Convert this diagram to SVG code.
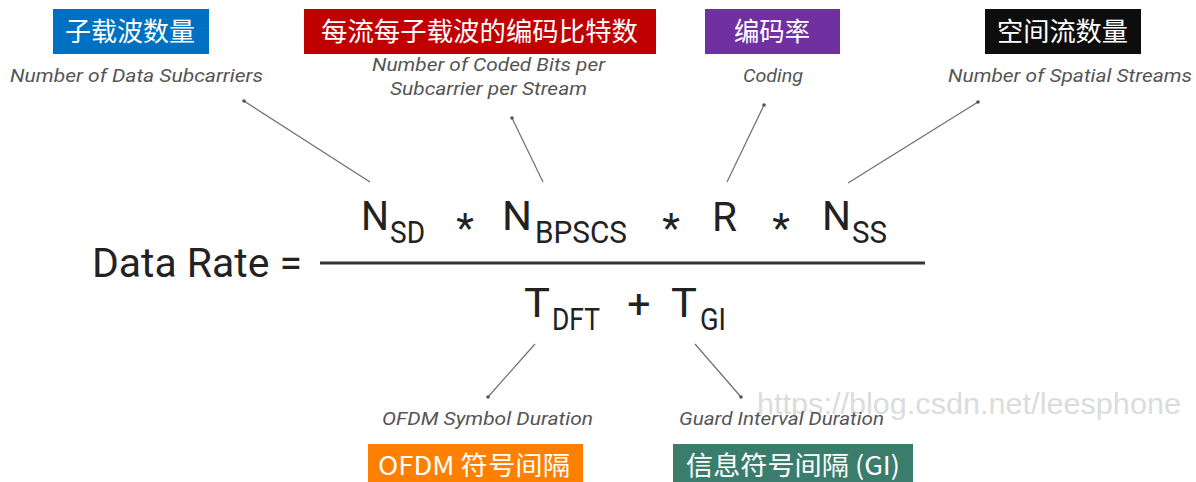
<svg xmlns="http://www.w3.org/2000/svg" width="1196" height="482" viewBox="0 0 1196 482">
<style>
.tag{font-family:"Noto Sans CJK SC","Noto Sans",sans-serif;font-size:26px;fill:#ffffff}
.lbl{font-family:Roboto,"Liberation Sans",sans-serif;font-style:italic;font-weight:400;font-size:18px;fill:#555555}
.big{font-family:Roboto,"Liberation Sans",sans-serif;font-size:41px;fill:#222222}
.sub{font-family:Roboto,"Liberation Sans",sans-serif;font-size:31px;fill:#222222}
.conn line{stroke:#6e6e6e;stroke-width:1.2}
.conn circle{fill:#555555}
.wm{font-family:"Liberation Sans",Arial,sans-serif;font-size:30px;fill:#dcdcdc}
</style>
<rect width="1196" height="482" fill="#ffffff"/>
<text class="wm" x="757" y="414" textLength="424" lengthAdjust="spacingAndGlyphs">https://blog.csdn.net/leesphone</text>

<g id="tag-nsd"><rect x="53" y="9" width="156" height="45" fill="#0070C0"/><text class="tag" x="65" y="41" textLength="130" lengthAdjust="spacingAndGlyphs">子载波数量</text></g>
<g id="tag-nbpscs"><rect x="304" y="9" width="352" height="45" fill="#C00000"/><text class="tag" x="321" y="41" textLength="317" lengthAdjust="spacingAndGlyphs">每流每子载波的编码比特数</text></g>
<g id="tag-r"><rect x="705" y="9" width="135" height="45" fill="#7030A0"/><text class="tag" x="734" y="41" textLength="76" lengthAdjust="spacingAndGlyphs">编码率</text></g>
<g id="tag-nss"><rect x="985" y="9" width="156" height="45" fill="#0D0D0D"/><text class="tag" x="997" y="41" textLength="131" lengthAdjust="spacingAndGlyphs">空间流数量</text></g>
<g id="tag-tdft"><rect x="368" y="444" width="215" height="38" fill="#FF8000"/><text class="tag" x="378" y="475" font-size="27" textLength="192" lengthAdjust="spacingAndGlyphs">OFDM 符号间隔</text></g>
<g id="tag-tgi"><rect x="673" y="444" width="240" height="38" fill="#3A7D6C"/><text class="tag" x="686" y="475" font-size="27" textLength="214" lengthAdjust="spacingAndGlyphs">信息符号间隔 (GI)</text></g>

<g id="label-nsd"><text class="lbl" x="10" y="82" textLength="253" lengthAdjust="spacingAndGlyphs">Number of Data Subcarriers</text></g>
<g id="label-nbpscs"><text class="lbl" x="372" y="71" textLength="233" lengthAdjust="spacingAndGlyphs">Number of Coded Bits per</text><text class="lbl" x="390" y="95" textLength="197" lengthAdjust="spacingAndGlyphs">Subcarrier per Stream</text></g>
<g id="label-r"><text class="lbl" x="743" y="82" textLength="60" lengthAdjust="spacingAndGlyphs">Coding</text></g>
<g id="label-nss"><text class="lbl" x="948" y="82" textLength="244" lengthAdjust="spacingAndGlyphs">Number of Spatial Streams</text></g>
<g id="label-tdft"><text class="lbl" x="382" y="425" textLength="211" lengthAdjust="spacingAndGlyphs">OFDM Symbol Duration</text></g>
<g id="label-tgi"><text class="lbl" x="679" y="425" textLength="205" lengthAdjust="spacingAndGlyphs">Guard Interval Duration</text></g>

<g id="formula">
<text class="big" x="92" y="277" font-size="42" textLength="210" lengthAdjust="spacingAndGlyphs">Data Rate =</text>
<line x1="320" y1="263" x2="925" y2="263" stroke="#333333" stroke-width="3"/>
<text class="big" x="361" y="230" textLength="28" lengthAdjust="spacingAndGlyphs">N</text>
<text class="sub" x="390" y="243" textLength="35" lengthAdjust="spacingAndGlyphs">SD</text>
<text class="big" x="465" y="242" text-anchor="middle">*</text>
<text class="big" x="502" y="230" textLength="30" lengthAdjust="spacingAndGlyphs">N</text>
<text class="sub" x="535" y="243" textLength="92" lengthAdjust="spacingAndGlyphs">BPSCS</text>
<text class="big" x="671" y="242" text-anchor="middle">*</text>
<text class="big" x="712" y="231" textLength="25" lengthAdjust="spacingAndGlyphs">R</text>
<text class="big" x="781" y="242" text-anchor="middle">*</text>
<text class="big" x="822" y="230" textLength="29" lengthAdjust="spacingAndGlyphs">N</text>
<text class="sub" x="852" y="243" textLength="35" lengthAdjust="spacingAndGlyphs">SS</text>
<text class="big" x="524" y="317" font-size="44" textLength="26" lengthAdjust="spacingAndGlyphs">T</text>
<text class="sub" x="552" y="330" textLength="48" lengthAdjust="spacingAndGlyphs">DFT</text>
<text class="big" x="639" y="318" font-size="43" text-anchor="middle">+</text>
<text class="big" x="671" y="317" font-size="44" textLength="26" lengthAdjust="spacingAndGlyphs">T</text>
<text class="sub" x="700" y="330" textLength="26" lengthAdjust="spacingAndGlyphs">GI</text>
</g>

<g id="connectors" class="conn">
<line x1="370" y1="182" x2="244" y2="101"/><circle cx="244" cy="101" r="1.8"/>
<line x1="543" y1="182" x2="512" y2="118"/><circle cx="512" cy="118" r="1.8"/>
<line x1="727" y1="182" x2="764" y2="105"/><circle cx="764" cy="105" r="1.8"/>
<line x1="848" y1="183" x2="978" y2="102"/><circle cx="978" cy="102" r="1.8"/>
<line x1="535" y1="344" x2="488" y2="397"/><circle cx="488" cy="397" r="1.8"/>
<line x1="695" y1="344" x2="741" y2="397"/><circle cx="741" cy="397" r="1.8"/>
</g>
</svg>
